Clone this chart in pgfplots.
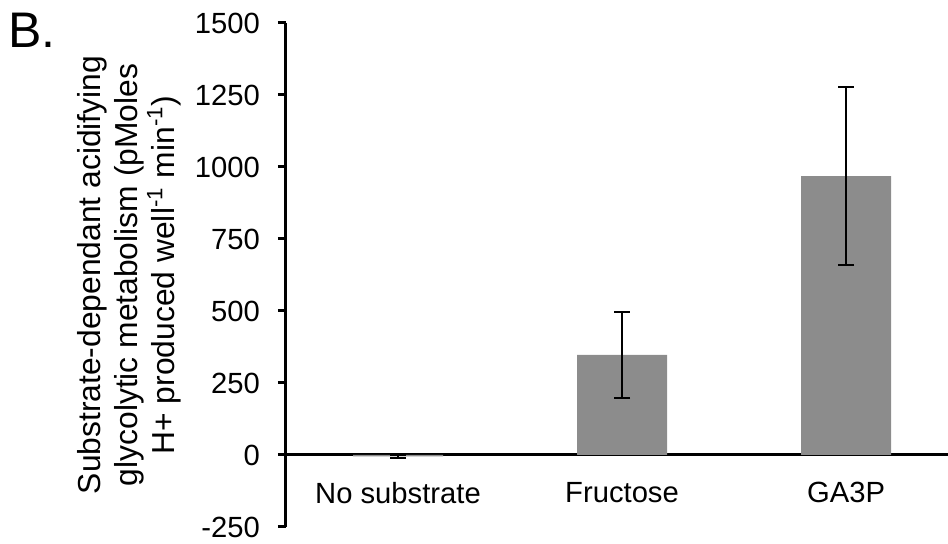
\documentclass[border=0pt]{standalone}
\usepackage{pgfplots}
\pgfplotsset{compat=1.18}
\usepackage{fontspec}
\setmainfont{Liberation Sans}

\definecolor{bargray}{RGB}{140,140,140}

% mean, error (pMoles H+ per well per min)
\pgfplotstableread{
x   y     err
0   -5    5
1   348   149
2   968   309
}\acidif

\begin{document}
\begin{tikzpicture}
\begin{axis}[
    scale only axis,
    width=331pt, height=252pt,
    xmin=-0.5, xmax=2.455,
    ymin=-250, ymax=1500,
    ytick distance=250,
    axis y line=left,
    axis x line=middle,
    axis line style={-, line width=1.5pt},
    every tick/.style={black, line width=1.5pt},
    tick align=outside,
    major tick length=4pt,
    ytick pos=left,
    xtick={0,1,2},
    xticklabels={No substrate, Fructose, GA3P},
    xtick style={draw=none},
    extra x ticks={0.5,1.5},
    extra x tick labels={},
    extra x tick style={draw=black, line width=1.5pt, tick align=outside, major tick length=4pt},
    /pgf/number format/assume math mode=true,
    /pgf/number format/1000 sep={},
    yticklabel style={font=\fontsize{14.6}{17}\selectfont, xshift=-5.5pt},
    xticklabel style={font=\fontsize{14.6}{17}\selectfont, yshift=-6pt},
    ylabel={Substrate-dependant acidifying\\glycolytic metabolism (pMoles\\H+ produced well\textsuperscript{-1} min\textsuperscript{-1})},
    ylabel style={at={(axis description cs:-0.236,0.5)}, anchor=center, align=center,
        font=\fontsize{15.9}{18.5}\selectfont},
    clip=false,
]
\addplot[ybar, bar width=45pt, fill=bargray, draw=none,
    error bars/.cd, y dir=both, y explicit,
    error bar style={black, line width=1pt},
    error mark options={black, line width=1pt, mark size=4pt, rotate=90}]
    table[x=x, y=y, y error=err] {\acidif};
\node[font=\fontsize{25}{30}\selectfont, anchor=center] at (axis description cs:-0.384,0.986) {B.};
\coordinate (bbl) at (axis description cs:-0.432,-0.0337);
\coordinate (btr) at (axis description cs:1.0,1.0456);
\end{axis}
\pgfresetboundingbox
\path[use as bounding box] (bbl) rectangle (btr);
\end{tikzpicture}
\end{document}
